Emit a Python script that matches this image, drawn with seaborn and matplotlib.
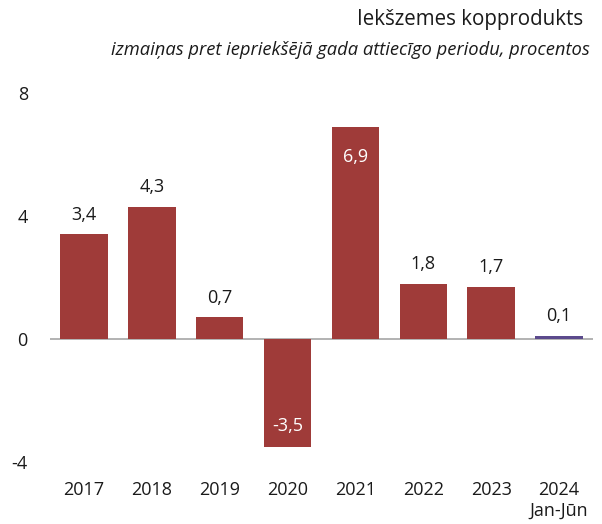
import matplotlib
matplotlib.use("Agg")
import matplotlib.pyplot as plt
import seaborn as sns
import pandas as pd

years = ["2017", "2018", "2019", "2020", "2021", "2022", "2023", "2024\nJan-Jūn"]
values = [3.4, 4.3, 0.7, -3.5, 6.9, 1.8, 1.7, 0.1]
labels = ["3,4", "4,3", "0,7", "-3,5", "6,9", "1,8", "1,7", "0,1"]
inside = [False, False, False, True, True, False, False, False]
yticks = [-4, 0, 4, 8]
title = "Iekšzemes kopprodukts"
subtitle = "izmaiņas pret iepriekšējā gada attiecīgo periodu, procentos"

sns.set_style("white")
plt.rcParams["font.family"] = ["Open Sans", "DejaVu Sans"]

red = "#9F3B39"
purple = "#5B4A8C"
colors = [red] * 7 + [purple]

df = pd.DataFrame({"year": years, "value": values})

fig = plt.figure(figsize=(6.02, 5.24), dpi=100)
ax = fig.add_axes([50 / 602, 1 - 462 / 524, 543 / 602, 369 / 524])
ax.axhline(0, color="#A6A6A6", lw=1.2, zorder=0.5)
sns.barplot(data=df, x="year", y="value", hue="year", palette=colors,
            width=0.7, legend=False, ax=ax, saturation=1, linewidth=0,
            edgecolor="none")
for p in ax.patches:
    p.set_zorder(2)

ax.set_xlim(-0.5, 7.5)
ax.set_ylim(-4, 8)
ax.set_yticks(yticks)
ax.set_yticklabels([str(t) for t in yticks])
for s in ax.spines.values():
    s.set_visible(False)
ax.tick_params(axis="y", length=0, pad=16, labelsize=13, colors="#1a1a1a")
ax.tick_params(axis="x", length=0, pad=14, labelsize=13, colors="#1a1a1a")
ax.set_xlabel("")
ax.set_ylabel("")

for i, (v, lab, ins) in enumerate(zip(values, labels, inside)):
    if ins:
        if v > 0:
            ax.annotate(lab, (i, v), xytext=(0, -22), textcoords="offset points",
                        ha="center", va="center", color="white", fontsize=13)
        else:
            ax.annotate(lab, (i, v), xytext=(0, 15), textcoords="offset points",
                        ha="center", va="center", color="white", fontsize=13)
    else:
        ax.annotate(lab, (i, v), xytext=(0, 14), textcoords="offset points",
                    ha="center", va="center", color="#1a1a1a", fontsize=13)

fig.text(583 / 602, 1 - 20 / 524, title, ha="right", va="center",
         fontsize=14.8, color="#1a1a1a")
fig.text(590 / 602, 1 - 50 / 524, subtitle, ha="right", va="center",
         fontsize=13.2, style="italic", color="#1a1a1a")

fig.savefig("out.png", dpi=100)
